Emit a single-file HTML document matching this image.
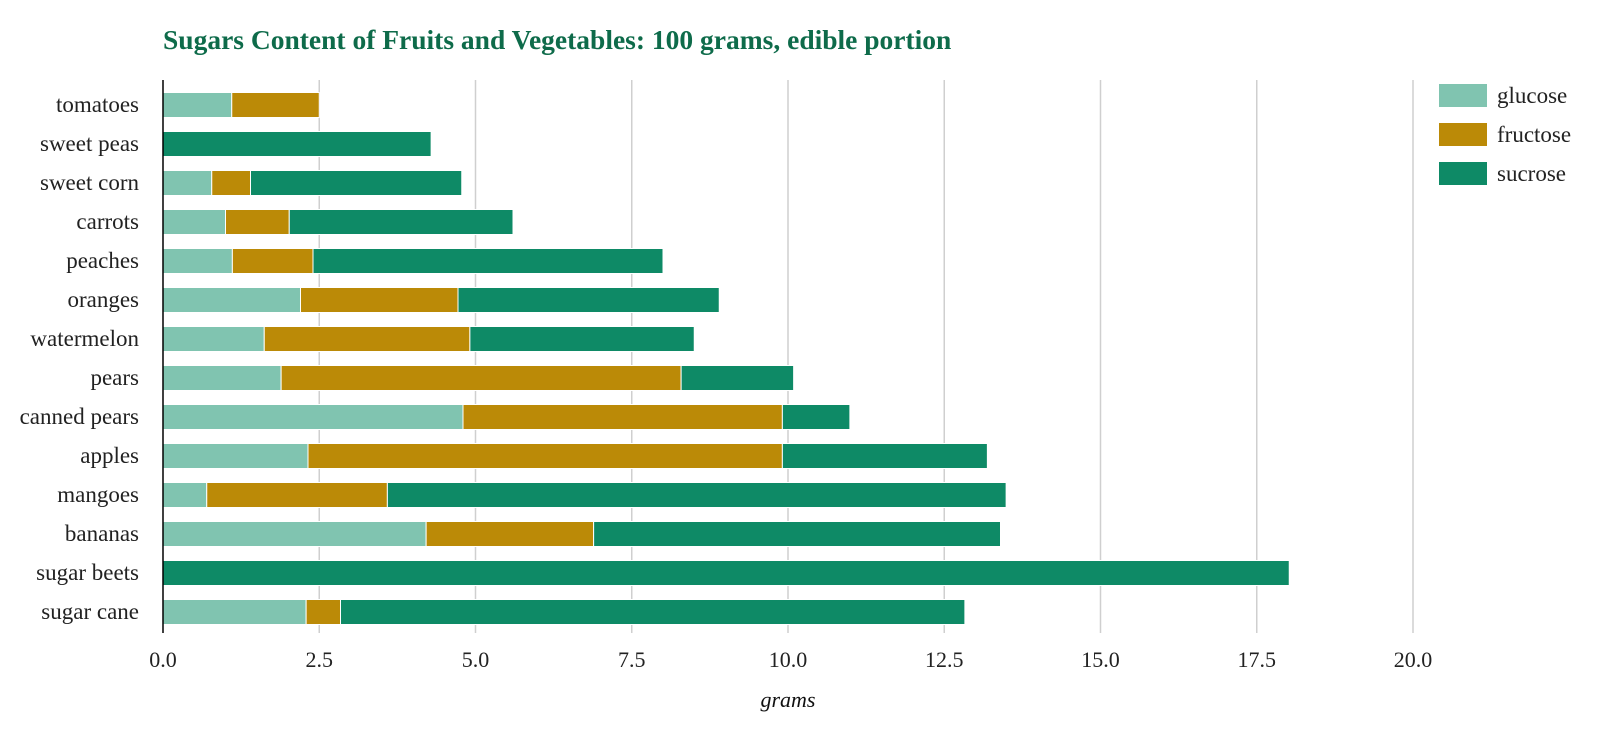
<!DOCTYPE html>
<html><head><meta charset="utf-8"><style>
body{margin:0;background:#fff;}
svg{display:block;font-family:"Liberation Serif",serif;}
</style></head><body>
<svg id="chart" width="1600" height="729">
<text x="163" y="49" font-size="27.5" font-weight="bold" fill="#0e6b4a">Sugars Content of Fruits and Vegetables: 100 grams, edible portion</text>
<g id="grid"></g><g id="bars"></g><g id="axes"></g><g id="legend"></g>
<text x="788" y="707" font-size="22" font-style="italic" text-anchor="middle" fill="#111">grams</text>
</svg>
<script>
const categories=["tomatoes","sweet peas","sweet corn","carrots","peaches","oranges","watermelon","pears","canned pears","apples","mangoes","bananas","sugar beets","sugar cane"];
const glucose=[1.1,0,0.78,1.0,1.11,2.2,1.62,1.89,4.8,2.32,0.7,4.21,0,2.29];
const fructose=[1.4,0,0.62,1.02,1.29,2.52,3.29,6.4,5.11,7.59,2.89,2.68,0,0.55];
const sucrose=[0,4.29,3.38,3.58,5.6,4.18,3.59,1.8,1.08,3.28,9.9,6.51,18.02,9.99];
const ticks=[0,2.5,5,7.5,10,12.5,15,17.5,20];
const tickLabels=["0.0","2.5","5.0","7.5","10.0","12.5","15.0","17.5","20.0"];
const seriesNames=["glucose","fructose","sucrose"];
const colors=["#80c4b0","#bb8a07","#0e8a66"];
const NS="http://www.w3.org/2000/svg";
const x=v=>163+v*62.5;
const y=i=>105+i*39.0;
function mk(p,tag,a){const e=document.createElementNS(NS,tag);for(const k in a)e.setAttribute(k,a[k]);p.appendChild(e);return e;}
const grid=document.getElementById('grid'),bars=document.getElementById('bars'),axes=document.getElementById('axes'),legend=document.getElementById('legend');
ticks.forEach((t,i)=>{
 if(t>0){const l=mk(grid,'line',{x1:x(t),x2:x(t),y1:80,y2:633,stroke:'#cfcfcf','stroke-width':1.5});
 
 }
 const tx=mk(axes,'text',{x:x(t),y:667,'font-size':22,'text-anchor':'middle',fill:'#222'});tx.textContent=tickLabels[i];
 
 
});
const ax=mk(axes,'line',{x1:163,x2:163,y1:80,y2:633,stroke:'#000','stroke-width':1.5});


const series=[glucose,fructose,sucrose];
categories.forEach((c,i)=>{
 const lab=mk(axes,'text',{x:139,y:y(i)+7,'font-size':23,'text-anchor':'end',fill:'#222'});lab.textContent=c;
 
 
 let acc=0;
 series.forEach((s,k)=>{
  const v=s[i];if(v<=0)return;
  const r=mk(bars,'rect',{x:x(acc),y:y(i)-12.5,width:x(acc+v)-x(acc),height:25,fill:colors[k],stroke:'#fff','stroke-width':1});
  
  
  acc+=v;
 });
});
seriesNames.forEach((n,k)=>{
 const r=mk(legend,'rect',{x:1439,y:84+k*39,width:48,height:23,fill:colors[k]});
 
 
 const t=mk(legend,'text',{x:1497,y:103+k*39,'font-size':23,fill:'#222'});t.textContent=n;
 
 
});
</script>
</body></html>
